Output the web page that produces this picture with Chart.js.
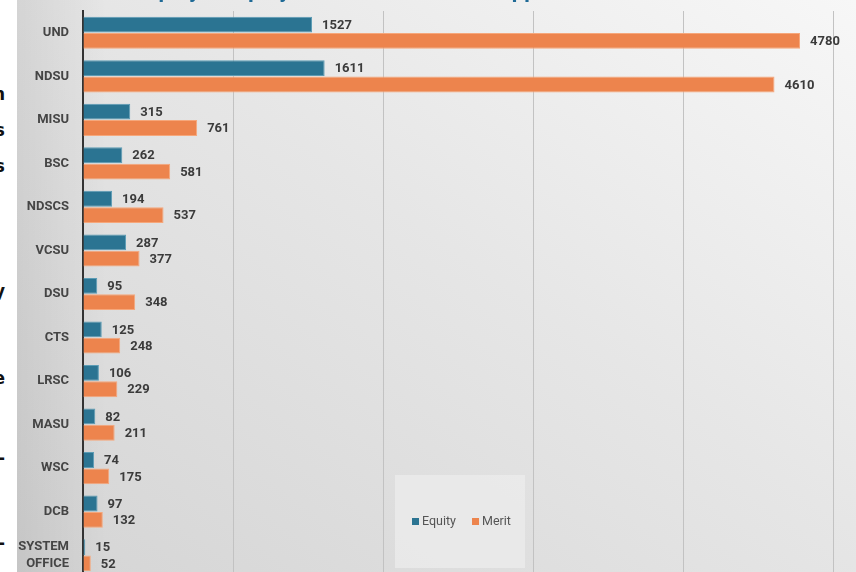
<!DOCTYPE html>
<html>
<head>
<meta charset="utf-8">
<script src="https://cdn.jsdelivr.net/npm/chart.js@4/dist/chart.umd.min.js"></script>
<style>
  html, body { margin: 0; padding: 0; width: 856px; height: 572px; overflow: hidden; background: #ffffff; }
  #strip { position: absolute; left: 0; top: 0; width: 17px; height: 572px; overflow: hidden; background: #fff; }
  #strip span { position: absolute; right: 12px; font: bold 17px "DejaVu Sans", sans-serif; color: #111; white-space: nowrap; line-height: 1; }
  #panel { position: absolute; left: 17px; top: 0; width: 839px; height: 588px;
    background:
      linear-gradient(to right, rgba(0,0,0,0.07) 0px, rgba(0,0,0,0) 90px),
      linear-gradient(to bottom left, #f7f7f7 0%, #e6e6e6 45%, #d4d4d4 100%); }
  #wrap { position: absolute; left: 0; top: 0; width: 839px; height: 588px; }
</style>
</head>
<body>
<div id="strip">
  <span style="top:86px">on</span>
  <span style="top:122px">us</span>
  <span style="top:158px">es</span>
  <span style="top:283px">ny</span>
  <span style="top:370px">ne</span>
  <span style="top:450px">a-</span>
  <span style="top:535px">e-</span>
</div>
<div id="panel"><div id="wrap"><canvas id="c"></canvas></div></div>
<script>
const titleText = "Employee Equity and Merit Increases Approved";
const categories = ["UND", "NDSU", "MISU", "BSC", "NDSCS", "VCSU", "DSU", "CTS", "LRSC", "MASU", "WSC", "DCB", ["SYSTEM", "OFFICE"]];
const equityValues = [1527, 1611, 315, 262, 194, 287, 95, 125, 106, 82, 74, 97, 15];
const meritValues = [4780, 4610, 761, 581, 537, 377, 348, 248, 229, 211, 175, 132, 52];
const seriesNames = ["Equity", "Merit"];
const xTickMax = 5000;
const xTickStep = 1000;

const valueLabels = {
  id: 'valueLabels',
  afterDatasetsDraw(chart) {
    const ctx = chart.ctx;
    ctx.save();
    ctx.font = 'bold 13px Roboto, "DejaVu Sans", sans-serif';
    ctx.fillStyle = '#3b3b3b';
    ctx.textBaseline = 'middle';
    ctx.textAlign = 'left';
    chart.data.datasets.forEach((ds, i) => {
      const meta = chart.getDatasetMeta(i);
      meta.data.forEach((el, j) => {
        ctx.fillText(String(ds.data[j]), el.x + 10, el.y + 1);
      });
    });
    ctx.restore();
  }
};

const boxLegend = {
  id: 'boxLegend',
  afterDraw(chart) {
    const ctx = chart.ctx;
    ctx.save();
    ctx.fillStyle = 'rgba(236,236,236,0.75)';
    ctx.fillRect(378, 475, 130, 93);
    ctx.font = '12.5px Roboto, "DejaVu Sans", sans-serif';
    ctx.textBaseline = 'middle';
    ctx.textAlign = 'left';
    let x = 395;
    chart.data.datasets.forEach((ds) => {
      ctx.fillStyle = ds.backgroundColor;
      ctx.fillRect(x, 518, 7, 7);
      ctx.fillStyle = '#555555';
      ctx.fillText(ds.label, x + 10, 521.5);
      x += 10 + ctx.measureText(ds.label).width + 16;
    });
    ctx.restore();
  }
};

const titlePlugin = {
  id: 'cutTitle',
  afterDraw(chart) {
    const ctx = chart.ctx;
    ctx.save();
    ctx.font = 'bold 22px Roboto, "DejaVu Sans", sans-serif';
    ctx.fillStyle = '#1f6a96';
    ctx.textBaseline = 'alphabetic';
    ctx.textAlign = 'left';
    ctx.fillText(titleText, 110, -3.5);
    ctx.restore();
  }
};

new Chart(document.getElementById('c'), {
  type: 'bar',
  data: {
    labels: categories,
    datasets: [
      { label: seriesNames[0], data: equityValues, backgroundColor: '#2b7492', borderColor: '#5b9cb5', borderWidth: 1, borderSkipped: 'start' },
      { label: seriesNames[1], data: meritValues, backgroundColor: '#ed844d', borderColor: '#f6a77b', borderWidth: 1, borderSkipped: 'start' }
    ]
  },
  options: {
    indexAxis: 'y',
    responsive: true,
    maintainAspectRatio: false,
    animation: false,
    datasets: { bar: { categoryPercentage: 0.75, barPercentage: 0.97 } },
    layout: { padding: { top: 11, bottom: 11, left: 0, right: 23 } },
    plugins: { legend: { display: false }, tooltip: { enabled: false }, title: { display: false } },
    scales: {
      x: {
        min: 0, max: xTickMax,
        ticks: { display: false, stepSize: xTickStep },
        grid: { color: '#c2c2c2', lineWidth: 1, drawTicks: false },
        border: { display: false },
        afterFit(scale) { scale.height = 0; scale.paddingLeft = 0; scale.paddingRight = 0; }
      },
      y: {
        ticks: { color: '#454545', padding: 14, font: { family: 'Roboto, "DejaVu Sans", sans-serif', size: 13, weight: 'bold', lineHeight: 1.3 } },
        grid: { display: false, drawTicks: false },
        border: { display: true, color: '#333333', width: 2 },
        afterFit(scale) { scale.width = 66; scale.paddingTop = 0; scale.paddingBottom = 0; }
      }
    }
  },
  plugins: [valueLabels, boxLegend, titlePlugin]
});
</script>
</body>
</html>
